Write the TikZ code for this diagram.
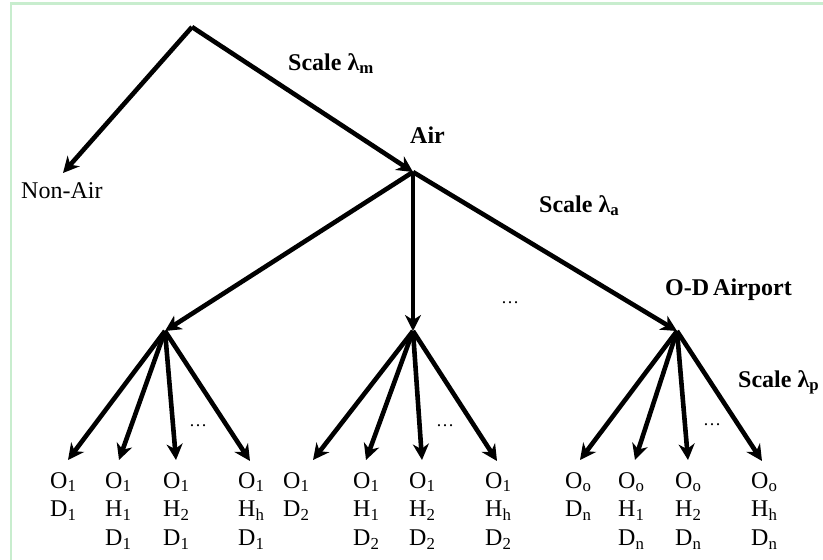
\documentclass[tikz,border=0pt]{standalone}
\usepackage{fontspec}
\setmainfont{Liberation Serif}
\usetikzlibrary{arrows.meta}
\definecolor{frameg}{RGB}{200,237,206}
\begin{document}
\begin{tikzpicture}[x=1pt,y=-1pt,
  arr/.style={line width=4.6pt,-{Stealth[length=16pt,width=16pt,inset=5pt]}},
  lbl/.style={font=\fontsize{24pt}{28.7pt}\selectfont\bfseries,inner sep=0pt,anchor=base west},
  plain/.style={font=\fontsize{24pt}{28.7pt}\selectfont,inner sep=0pt,anchor=base west},
  leaf/.style={font=\fontsize{24pt}{28.7pt}\selectfont,inner sep=0pt,anchor=north west,align=left},
  ell/.style={font=\fontsize{18pt}{20pt}\selectfont,inner sep=0pt,anchor=base}]
\useasboundingbox (0,0) rectangle (823,560);
\draw[frameg,line width=2.5pt] (830,3.5) -- (11,3.5) -- (11,570);

% internal points
\coordinate (root) at (192,27);
\coordinate (air) at (413,172);
\coordinate (g1) at (165,331);
\coordinate (g2) at (413,331);
\coordinate (g3) at (677,331);
\coordinate (nontip) at (63,173);

% labels
\node[plain] (nonair) at (21,198) {Non-Air};
\node[lbl] (scm) at (288,70) {Scale λ\textsubscript{m}};
\node[lbl] (airlbl) at (410,143) {Air};
\node[lbl] (sca) at (539,212) {Scale λ\textsubscript{a}};
\node[lbl] (od) at (665,295) {O-D\,Airport};
\node[lbl] (scp) at (738,387) {Scale λ\textsubscript{p}};

% ellipses
\node[ell] (e0) at (510,303) {\dots};
\node[ell] (e1) at (198,426) {\dots};
\node[ell] (e2) at (445,426) {\dots};
\node[ell] (e3) at (712,425) {\dots};

% leaves
\node[leaf] (l11) at (50,472) {O\textsubscript{1}\\D\textsubscript{1}};
\node[leaf] (l12) at (105,472) {O\textsubscript{1}\\H\textsubscript{1}\\D\textsubscript{1}};
\node[leaf] (l13) at (163,472) {O\textsubscript{1}\\H\textsubscript{2}\\D\textsubscript{1}};
\node[leaf] (l14) at (238,472) {O\textsubscript{1}\\H\textsubscript{h}\\D\textsubscript{1}};
\node[leaf] (l21) at (283,472) {O\textsubscript{1}\\D\textsubscript{2}};
\node[leaf] (l22) at (353,472) {O\textsubscript{1}\\H\textsubscript{1}\\D\textsubscript{2}};
\node[leaf] (l23) at (409,472) {O\textsubscript{1}\\H\textsubscript{2}\\D\textsubscript{2}};
\node[leaf] (l24) at (485,472) {O\textsubscript{1}\\H\textsubscript{h}\\D\textsubscript{2}};
\node[leaf] (l31) at (565,472) {O\textsubscript{o}\\D\textsubscript{n}};
\node[leaf] (l32) at (618,472) {O\textsubscript{o}\\H\textsubscript{1}\\D\textsubscript{n}};
\node[leaf] (l33) at (675,472) {O\textsubscript{o}\\H\textsubscript{2}\\D\textsubscript{n}};
\node[leaf] (l34) at (751,472) {O\textsubscript{o}\\H\textsubscript{h}\\D\textsubscript{n}};

% leaf arrow tips
\coordinate (t11) at (68,460);
\coordinate (t12) at (119,460);
\coordinate (t13) at (176,460);
\coordinate (t14) at (250,461);
\coordinate (t21) at (313,460);
\coordinate (t22) at (366,460);
\coordinate (t23) at (422,460);
\coordinate (t24) at (497,461);
\coordinate (t31) at (580,460);
\coordinate (t32) at (635,460);
\coordinate (t33) at (688,460);
\coordinate (t34) at (762,461);

% connectors
\draw[arr] (root) -- (nontip);
\draw[arr] (root) -- (air);
\draw[arr] (air) -- (g1);
\draw[arr] (air) -- (g2);
\draw[arr] (air) -- (g3);
\foreach \g/\k in {g1/1,g2/2,g3/3}{
  \foreach \j in {1,2,3,4}{
    \draw[arr] (\g) -- (t\k\j);
  }
}
\end{tikzpicture}
\end{document}
